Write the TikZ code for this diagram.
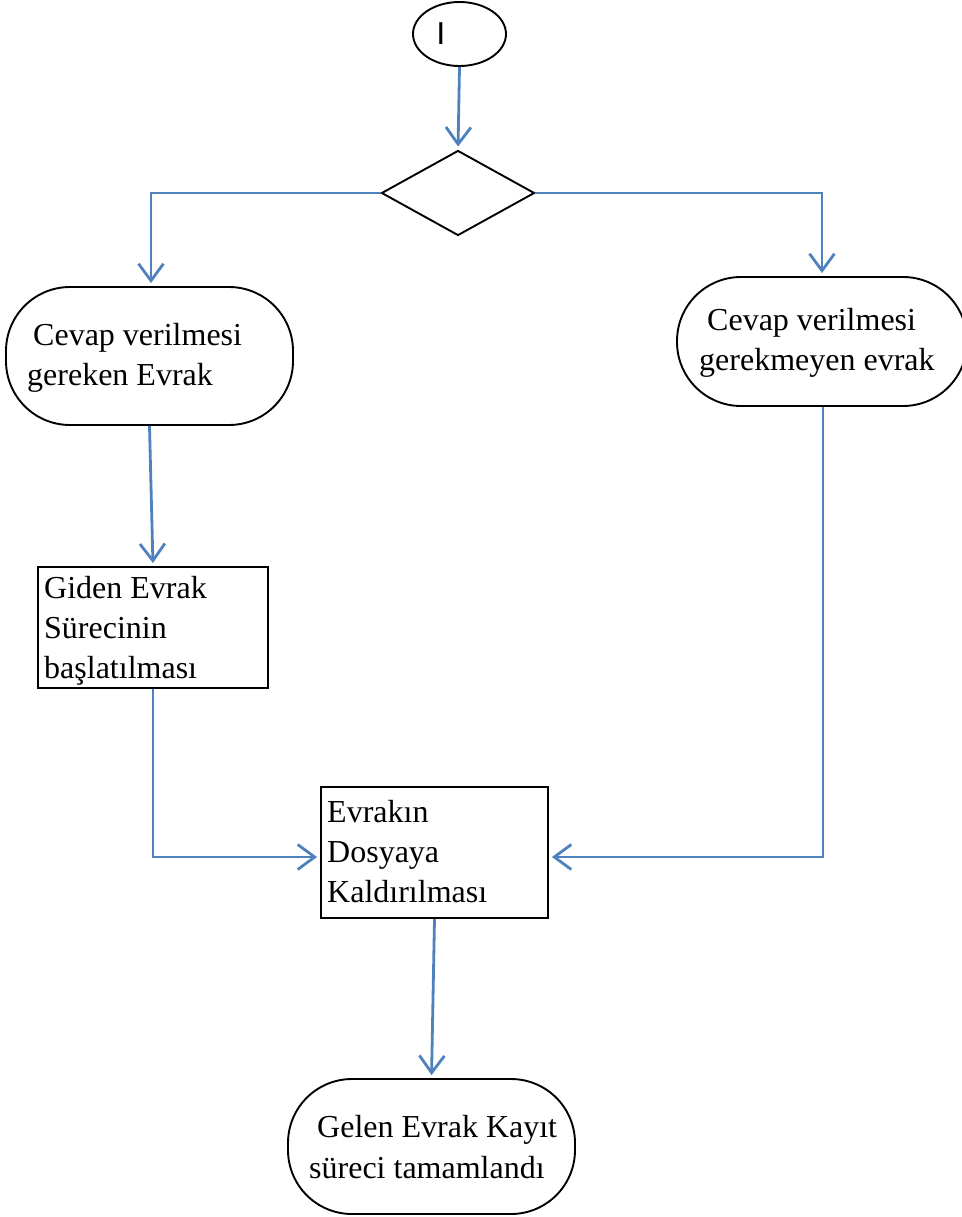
\documentclass[tikz,border=0pt]{standalone}
\usepackage{fontspec}
\setmainfont{Liberation Serif}
\newfontfamily\startfont{Carlito}
\usetikzlibrary{arrows.meta,shapes.geometric}
\definecolor{flowblue}{RGB}{79,129,189}
\tikzset{
  shp/.style={draw=black,line width=1.9pt,inner sep=0pt,fill=white},
  term/.style={shp,rectangle,rounded corners=64pt},
  box/.style={shp,rectangle},
  txt/.style={anchor=base west,inner sep=0pt,font=\fontsize{32}{40}\selectfont},
  arr/.style={draw=flowblue,line width=2.8pt,-{Straight Barb[length=17pt,width=25pt,line width=2.8pt]},shorten >=3pt}
}
\begin{document}
\begin{tikzpicture}[x=1pt,y=-1pt]
\useasboundingbox (0,0) rectangle (961,1217);
% shapes
\node[shp,ellipse,minimum width=93pt,minimum height=64pt] (start) at (459.5,34) {};
\node[inner sep=0pt,font=\startfont\fontsize{34}{34}\selectfont] (starttxt) at (441,34) {I};
\node[shp,diamond,minimum width=153pt,minimum height=85pt] (dec) at (458,193) {};
\node[term,minimum width=287pt,minimum height=138pt] (t1) at (149.5,356) {};
\node[term,minimum width=290pt,minimum height=129pt] (t2) at (822,341.5) {};
\node[box,minimum width=230pt,minimum height=121pt] (g) at (153,627.5) {};
\node[box,minimum width=227pt,minimum height=131pt] (m) at (434.5,852.5) {};
\node[term,minimum width=287pt,minimum height=135pt] (e) at (431.5,1146.5) {};
% texts
\node[txt] (t1a) at (33,345) {Cevap verilmesi};
\node[txt] (t1b) at (27,385) {gereken Evrak};
\node[txt] (t2a) at (707,330) {Cevap verilmesi};
\node[txt] (t2b) at (699,370) {gerekmeyen evrak};
\node[txt] (ga) at (44,598) {Giden Evrak};
\node[txt] (gb) at (44,638) {Sürecinin};
\node[txt] (gc) at (44,678) {başlatılması};
\node[txt] (ma) at (327,822) {Evrakın};
\node[txt] (mb) at (327,862) {Dosyaya};
\node[txt] (mc) at (327,902) {Kaldırılması};
\node[txt] (ea) at (317,1137) {Gelen Evrak Kayıt};
\node[txt] (eb) at (309,1178) {süreci tamamlandı};
% connectors
\draw[arr] (start.south) -- (dec.north);
\draw[arr] (dec.west) -| ([xshift=1.5pt]t1.north);
\draw[arr] (dec.east) -| (t2.north);
\draw[arr] (t1.south) -- (g.north);
\draw[arr] (g.south) |- ([yshift=-4.5pt]m.west);
\draw[arr] ([xshift=1pt]t2.south) |- ([yshift=-4.5pt]m.east);
\draw[arr] (m.south) -- (e.north);
\end{tikzpicture}
\end{document}
